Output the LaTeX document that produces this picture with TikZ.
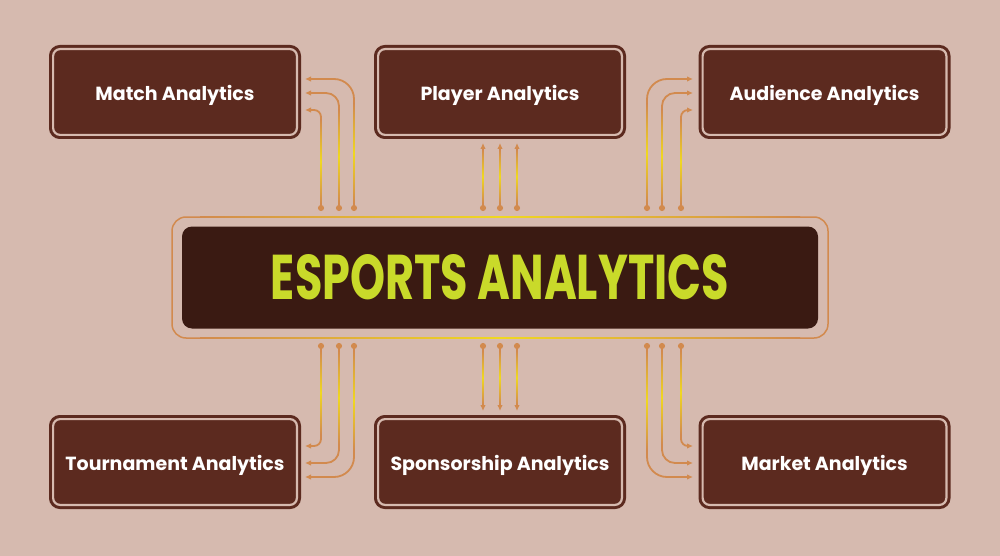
\documentclass[tikz,border=0pt]{standalone}
\usepackage{fontspec}
\setmainfont{Poppins}
\usetikzlibrary{arrows.meta,calc}
\definecolor{bg}{HTML}{D6BAAF}
\definecolor{boxfill}{HTML}{5C2A1F}
\definecolor{ctrfill}{HTML}{3A1A12}
\definecolor{ora}{HTML}{D28A4E}
\definecolor{yel}{HTML}{F0D820}
\definecolor{ttl}{HTML}{C9DA2A}
\newcommand{\vgr}[3]{\shade[top color=ora, bottom color=ora, middle color=yel] ({#1-0.9},#2) rectangle ({#1+0.9},#3);}
\begin{document}
\begin{tikzpicture}[x=1pt,y=-1pt,
 box/.style={draw=boxfill, fill=boxfill, double=bg, double distance=2.2pt, line width=3pt,
   rounded corners=7pt, minimum width=243.8pt, minimum height=85.8pt, text=white,
   font=\bfseries\fontsize{19}{21}\selectfont, inner sep=0pt, text height=17pt, text depth=0pt},
 conn/.style={draw=ora, line width=1.8pt, {Circle[length=6pt]}-{Latex[length=6pt,width=5.5pt]}},
]
\fill[bg] (0,0) rectangle (1000,556);
\useasboundingbox (0,0) rectangle (1000,556);

% boxes
\node[box] (match) at (175,92) {Match Analytics};
\node[box] (player) at (500,92) {Player Analytics};
\node[box] (aud) at (824.5,92) {Audience Analytics};
\node[box] (tour) at (175,462) {Tournament Analytics};
\node[box] (spon) at (500,462) {Sponsorship Analytics};
\node[box] (mkt) at (824.5,462) {Market Analytics};

% center
\draw[ora, line width=1.5pt, rounded corners=14pt] (172,217) rectangle (828,338);
\shade[left color=ora, right color=ora, middle color=yel] (200,216.2) rectangle (800,217.8);
\shade[left color=ora, right color=ora, middle color=yel] (200,337.2) rectangle (800,338.8);
\node[fill=ctrfill, rounded corners=10pt, minimum width=636pt, minimum height=102pt, text=ttl, inner sep=0pt]
  (core) at (500,277.5) {\resizebox{458pt}{45pt}{\bfseries ESPORTS ANALYTICS}};

% connector end points
\coordinate (tla) at (354,211); \coordinate (tlae) at (305,79);
\coordinate (tlb) at (339,211); \coordinate (tlbe) at (305,93);
\coordinate (tlc) at (321,211); \coordinate (tlce) at (305,110);
\coordinate (tca) at (483,211); \coordinate (tcae) at (483,143);
\coordinate (tcb) at (500,211); \coordinate (tcbe) at (500,143);
\coordinate (tcc) at (517,211); \coordinate (tcce) at (517,143);
\coordinate (tra) at (647,211); \coordinate (trae) at (693,79);
\coordinate (trb) at (662,211); \coordinate (trbe) at (693,93);
\coordinate (trc) at (681,211); \coordinate (trce) at (693,110);
\coordinate (bla) at (354,343); \coordinate (blae) at (305,477);
\coordinate (blb) at (339,343); \coordinate (blbe) at (305,463);
\coordinate (blc) at (321,343); \coordinate (blce) at (305,446);
\coordinate (bca) at (483,343); \coordinate (bcae) at (483,411);
\coordinate (bcb) at (500,343); \coordinate (bcbe) at (500,411);
\coordinate (bcc) at (517,343); \coordinate (bcce) at (517,411);
\coordinate (bra) at (647,343); \coordinate (brae) at (693,477);
\coordinate (brb) at (662,343); \coordinate (brbe) at (693,463);
\coordinate (brc) at (681,343); \coordinate (brce) at (693,446);

% connectors
\draw[conn, rounded corners=20pt] (tla) |- (tlae);
\draw[conn, rounded corners=13pt] (tlb) |- (tlbe);
\draw[conn, rounded corners=7pt] (tlc) |- (tlce);
\draw[conn] (tca) -- (tcae);
\draw[conn] (tcb) -- (tcbe);
\draw[conn] (tcc) -- (tcce);
\draw[conn, rounded corners=20pt] (tra) |- (trae);
\draw[conn, rounded corners=13pt] (trb) |- (trbe);
\draw[conn, rounded corners=7pt] (trc) |- (trce);
\draw[conn, rounded corners=20pt] (bla) |- (blae);
\draw[conn, rounded corners=13pt] (blb) |- (blbe);
\draw[conn, rounded corners=7pt] (blc) |- (blce);
\draw[conn] (bca) -- (bcae);
\draw[conn] (bcb) -- (bcbe);
\draw[conn] (bcc) -- (bcce);
\draw[conn, rounded corners=20pt] (bra) |- (brae);
\draw[conn, rounded corners=13pt] (brb) |- (brbe);
\draw[conn, rounded corners=7pt] (brc) |- (brce);

% gradient highlights on vertical runs
\vgr{354}{104}{203}\vgr{339}{110}{203}\vgr{321}{120}{203}
\vgr{483}{150}{203}\vgr{500}{150}{203}\vgr{517}{150}{203}
\vgr{647}{104}{203}\vgr{662}{110}{203}\vgr{681}{120}{203}
\vgr{354}{351}{450}\vgr{339}{351}{444}\vgr{321}{351}{434}
\vgr{483}{351}{404}\vgr{500}{351}{404}\vgr{517}{351}{404}
\vgr{647}{351}{450}\vgr{662}{351}{444}\vgr{681}{351}{434}
\end{tikzpicture}
\end{document}
